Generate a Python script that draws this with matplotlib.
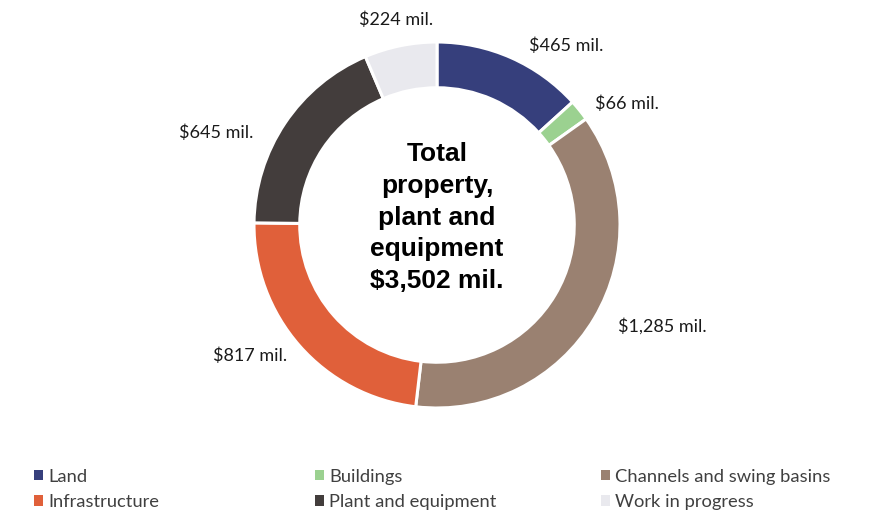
import matplotlib
matplotlib.use("Agg")
import matplotlib.pyplot as plt
from matplotlib.patches import Patch

categories = ["Land", "Buildings", "Channels and swing basins",
              "Infrastructure", "Plant and equipment", "Work in progress"]
values = [465, 66, 1285, 817, 645, 224]
value_labels = ["$465 mil.", "$66 mil.", "$1,285 mil.", "$817 mil.", "$645 mil.", "$224 mil."]
colors = ["#363f7c", "#9bd190", "#9a8171", "#e0603a", "#433d3c", "#e9e9ee"]
center_title = "Total\nproperty,\nplant and\nequipment"
center_total = "$3,502 mil."

# label anchors (x, y) in pie radius units, placed like the excel chart
label_pos = [(0.705, 0.978), (1.038, 0.661), (1.23, -0.552),
             (-1.022, -0.716), (-1.208, 0.503), (-0.224, 1.12)]

W, H = 872, 519
fig = plt.figure(figsize=(W / 100, H / 100), dpi=100)

# square axes: 1 radius unit = 183 px, donut centre at (437, 225) px from top-left
r_px = 183
span = 3.0
size = span * r_px
cx, cy = 437, H - 225
ax = fig.add_axes([(cx - size / 2) / W, (cy - size / 2) / H, size / W, size / H])

ax.pie(values, colors=colors, startangle=90, counterclock=False, radius=1.0,
       wedgeprops=dict(width=0.25, edgecolor="white", linewidth=2.2))
ax.set_xlim(-span / 2, span / 2)
ax.set_ylim(-span / 2, span / 2)
ax.set_aspect("equal")
ax.axis("off")

for txt, (x, y) in zip(value_labels, label_pos):
    ax.text(x, y, txt, ha="center", va="center", fontsize=13,
            family="Lato", color="#1a1a1a")

ax.text(0, 0.04, center_title + "\n" + center_total, ha="center", va="center",
        fontsize=19, fontweight="bold", family="Liberation Sans",
        linespacing=1.4, color="black")

# legend: three columns of two rows, filled row-wise
col_x = [0.039, 0.361, 0.689]
for c in range(3):
    idx = [c, c + 3]
    handles = [Patch(facecolor=colors[i], edgecolor="none") for i in idx]
    fig.legend(handles, [categories[i] for i in idx], loc="upper left",
               bbox_to_anchor=(col_x[c], 0.097), frameon=False,
               handlelength=0.5, handleheight=0.5, handletextpad=0.3,
               labelspacing=0.5, borderaxespad=0, borderpad=0,
               prop={"family": "Lato", "size": 13.2}, labelcolor="#404040")

fig.savefig("out.png", dpi=100, facecolor="white")
